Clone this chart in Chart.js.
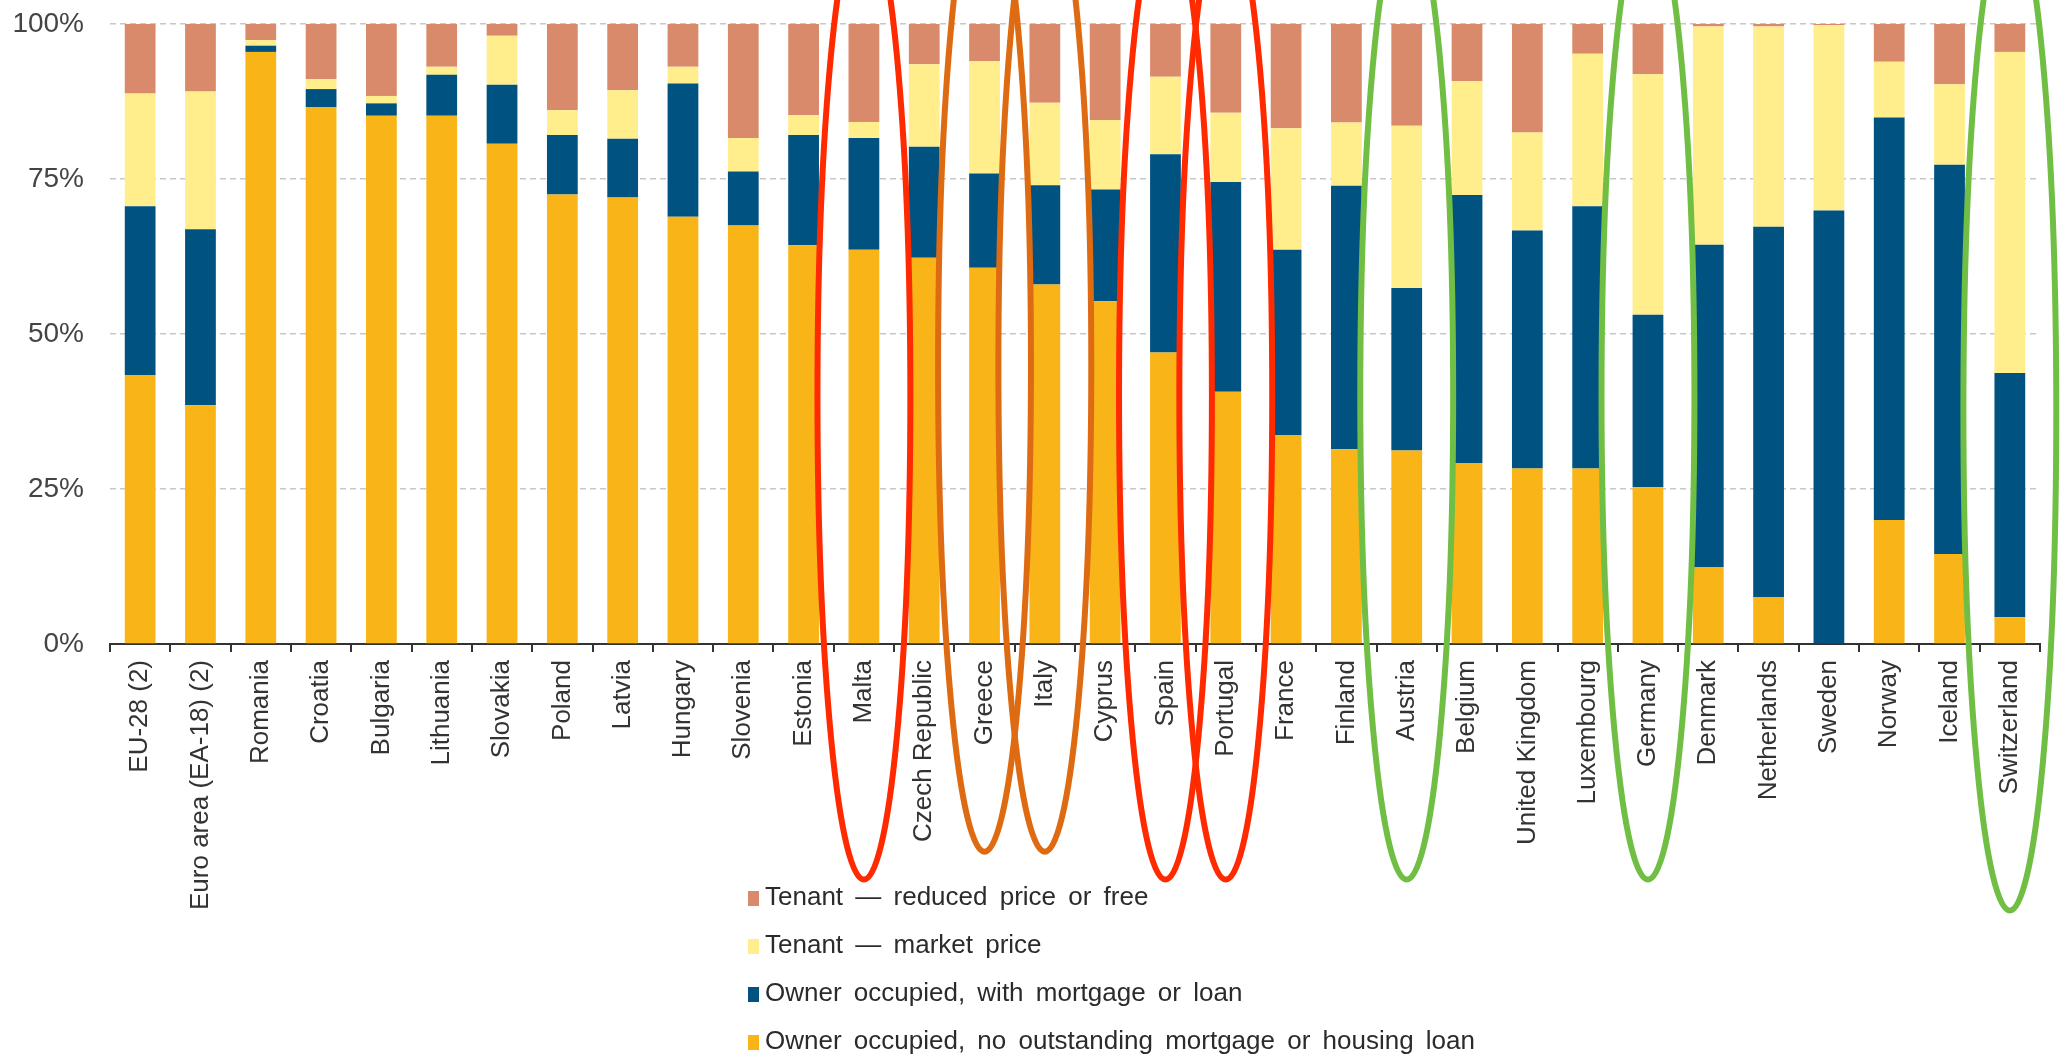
<!DOCTYPE html>
<html>
<head>
<meta charset="utf-8">
<title>Housing tenure status</title>
<script src="https://cdn.jsdelivr.net/npm/chart.js@4.4.1/dist/chart.umd.min.js"></script>
<style>
  body { margin: 0; background: #fff; font-family: "Liberation Sans", Arial, sans-serif; }
  #wrap { position: relative; width: 2067px; height: 1064px; }
  #legend { position: absolute; left: 748px; top: 872px; color: #2b2b2b; font-size: 26px; }
  #legend div { height: 48px; line-height: 48px; white-space: nowrap; word-spacing: 5px; }
  #legend span.box { display: inline-block; width: 11px; height: 15px; margin-right: 6px; vertical-align: -1px; }
</style>
</head>
<body>
<div id="wrap">
  <canvas id="chart"></canvas>
  <div id="legend"></div>
</div>
<script>
// categories (x axis)
const categories = [
  'EU-28 (2)', 'Euro area (EA-18) (2)', 'Romania', 'Croatia', 'Bulgaria', 'Lithuania', 'Slovakia',
  'Poland', 'Latvia', 'Hungary', 'Slovenia', 'Estonia', 'Malta', 'Czech Republic', 'Greece', 'Italy',
  'Cyprus', 'Spain', 'Portugal', 'France', 'Finland', 'Austria', 'Belgium', 'United Kingdom',
  'Luxembourg', 'Germany', 'Denmark', 'Netherlands', 'Sweden', 'Norway', 'Iceland', 'Switzerland'
];

// share of population (%) by tenure status
const ownerNoLoan = [43.4, 38.5, 95.5, 86.6, 85.2, 85.2, 80.7, 72.5, 72.0, 68.9, 67.5, 64.3, 63.6, 62.3, 60.7, 58.0,
  55.3, 47.0, 40.7, 33.7, 31.4, 31.2, 29.2, 28.3, 28.3, 25.3, 12.4, 7.6, 0.0, 20.0, 14.5, 4.3];
const ownerMortgage = [27.2, 28.4, 1.0, 2.9, 2.0, 6.6, 9.5, 9.6, 9.5, 21.5, 8.7, 17.8, 18.0, 17.9, 15.2, 16.0,
  18.0, 32.0, 33.8, 29.9, 42.5, 26.2, 43.2, 38.4, 42.3, 27.8, 52.0, 59.7, 69.9, 64.9, 62.8, 39.4];
const tenantMarket = [18.2, 22.2, 0.9, 1.6, 1.2, 1.3, 7.9, 4.0, 7.8, 2.7, 5.4, 3.2, 2.6, 13.3, 18.1, 13.3,
  11.2, 12.5, 11.2, 19.6, 10.2, 26.2, 18.4, 15.8, 24.6, 38.8, 35.2, 32.3, 29.9, 9.0, 13.0, 51.8];
const tenantReduced = [11.2, 10.9, 2.6, 8.9, 11.6, 6.9, 1.9, 13.9, 10.7, 6.9, 18.4, 14.7, 15.8, 6.5, 6.0, 12.7,
  15.5, 8.5, 14.3, 16.8, 15.9, 16.4, 9.2, 17.5, 4.8, 8.1, 0.4, 0.4, 0.2, 6.1, 9.7, 4.5];

const yTicks = [0, 25, 50, 75, 100];

// hand-drawn ovals over some countries
const ovals = [
  { name: 'Malta', color: '#ff2a00', mid: 40, low: -38 },
  { name: 'Spain', color: '#ff2a00', mid: 40, low: -38 },
  { name: 'Portugal', color: '#ff2a00', mid: 40, low: -38 },
  { name: 'Greece', color: '#de6b12', mid: 45, low: -33.5 },
  { name: 'Italy', color: '#de6b12', mid: 45, low: -33.5 },
  { name: 'Austria', color: '#70bf44', mid: 40, low: -38 },
  { name: 'Germany', color: '#70bf44', mid: 40, low: -38 },
  { name: 'Switzerland', color: '#70bf44', mid: 37.5, low: -43 }
];

const series = [
  { label: 'Owner occupied, no outstanding mortgage or housing loan', data: ownerNoLoan, color: '#f9b518' },
  { label: 'Owner occupied, with mortgage or loan', data: ownerMortgage, color: '#005381' },
  { label: 'Tenant \u2014 market price', data: tenantMarket, color: '#ffee8b' },
  { label: 'Tenant \u2014 reduced price or free', data: tenantReduced, color: '#d88a6b' }
];

const ovalPlugin = {
  id: 'ovals',
  afterDraw(chart) {
    const ctx = chart.ctx;
    const x = chart.scales.x;
    const y = chart.scales.y;
    const step = x.getPixelForValue(1) - x.getPixelForValue(0);
    ctx.save();
    ovals.forEach(o => {
      const cx = x.getPixelForValue(categories.indexOf(o.name));
      const cy = y.getPixelForValue(o.mid);
      const ry = y.getPixelForValue(o.low) - cy;
      ctx.beginPath();
      ctx.ellipse(cx, cy, step * 0.77, ry, 0, 0, Math.PI * 2);
      ctx.lineWidth = 6;
      ctx.strokeStyle = o.color;
      ctx.stroke();
    });
    ctx.restore();
  }
};

const family = '"Liberation Sans", Arial, sans-serif';

new Chart(document.getElementById('chart'), {
  type: 'bar',
  data: {
    labels: categories,
    datasets: series.map(s => ({
      label: s.label,
      data: s.data,
      backgroundColor: s.color,
      borderWidth: 0,
      barPercentage: 0.51,
      categoryPercentage: 1
    }))
  },
  options: {
    responsive: true,
    maintainAspectRatio: false,
    animation: false,
    layout: { padding: { top: 24, right: 27, left: 0, bottom: 0 } },
    plugins: {
      legend: { display: false },
      tooltip: { enabled: false }
    },
    scales: {
      x: {
        stacked: true,
        afterFit: scale => { scale.height = 420; },
        border: { display: true, color: '#333', width: 2 },
        grid: { display: true, offset: true, drawOnChartArea: false, drawTicks: true, tickLength: 8, color: '#333', lineWidth: 2 },
        ticks: { minRotation: 90, maxRotation: 90, autoSkip: false, padding: 8, color: '#333', font: { family: family, size: 26 } }
      },
      y: {
        stacked: true,
        min: 0,
        max: 100,
        afterFit: scale => { scale.width = 110; scale.paddingTop = 0; scale.paddingBottom = 0; },
        afterBuildTicks: scale => { scale.ticks = yTicks.map(v => ({ value: v })); },
        border: { display: false, dash: [6, 4] },
        grid: { color: '#c8c8c8', lineWidth: 1.5, drawTicks: false },
        ticks: { padding: 26, color: '#444', font: { family: family, size: 28 }, callback: v => v + '%' }
      }
    }
  },
  plugins: [ovalPlugin]
});

// legend, top item = top of the stack
const legend = document.getElementById('legend');
series.slice().reverse().forEach(s => {
  const row = document.createElement('div');
  const box = document.createElement('span');
  box.className = 'box';
  box.style.background = s.color;
  row.appendChild(box);
  row.appendChild(document.createTextNode(s.label));
  legend.appendChild(row);
});
</script>
</body>
</html>
